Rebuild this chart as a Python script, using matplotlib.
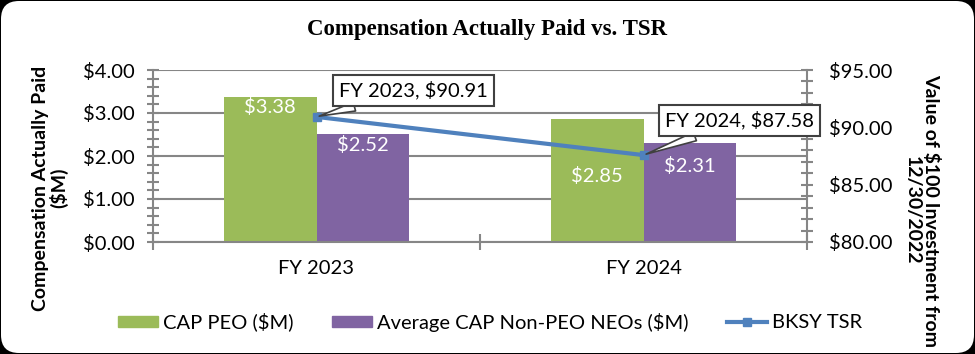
import matplotlib
matplotlib.use("Agg")
import matplotlib.pyplot as plt
import numpy as np
from matplotlib.patches import FancyBboxPatch, Patch
from matplotlib.lines import Line2D
from matplotlib.transforms import IdentityTransform

# data
categories = ["FY 2023", "FY 2024"]
cap_peo = [3.38, 2.85]
cap_non_peo = [2.52, 2.31]
bksy_tsr = [90.91, 87.58]

GREEN = "#9BBB59"
PURPLE = "#8064A2"
BLUE = "#4F81BD"
GRID = "#868686"
FONT = ["Lato", "DejaVu Sans"]
FS = 14.5

plt.rcParams["font.family"] = FONT

fig = plt.figure(figsize=(9.75, 3.54), dpi=100, facecolor="black")

# white rounded panel on black background
panel = FancyBboxPatch((1, 1), 973, 352, boxstyle="round,pad=0,rounding_size=18",
                       transform=IdentityTransform(), fc="white", ec="none", zorder=-10)
fig.patches.append(panel)

ax = fig.add_axes([153 / 975, 1 - 242 / 354, 654 / 975, 172 / 354])
ax.set_facecolor("none")
x = np.arange(len(categories))
bw = 0.284

b1 = ax.bar(x - bw / 2, cap_peo, bw, color=GREEN, zorder=2)
b2 = ax.bar(x + bw / 2, cap_non_peo, bw, color=PURPLE, zorder=2)

ax.set_ylim(0, 4)
ax.set_xlim(-0.5, 1.5)
ax.set_yticks(np.arange(0, 4.01, 1))
ax.set_yticks(np.arange(0, 4.01, 0.2), minor=True)
ax.set_yticklabels([f"${v:.2f}" for v in np.arange(0, 4.01, 1)])
ax.yaxis.grid(True, color=GRID, lw=1.5, zorder=0)
ax.set_axisbelow(True)

ax.set_xticks([-0.5, 0.5, 1.5])
ax.set_xticklabels([])
ax.set_xticks(x, minor=True)
ax.set_xticklabels(categories, minor=True)
ax.tick_params(axis="x", which="major", direction="inout", length=11, width=1.5, color=GRID)
ax.tick_params(axis="x", which="minor", length=0, pad=13, labelsize=FS)
ax.tick_params(axis="y", which="both", direction="inout", length=9, width=1.5,
               color=GRID, labelsize=FS, pad=9)

for s in ["top", "right"]:
    ax.spines[s].set_visible(False)
for s in ["left", "bottom"]:
    ax.spines[s].set_color(GRID)
    ax.spines[s].set_linewidth(1.5)

# bar value labels (offsets in px below bar top, some were moved by hand)
peo_off = [10, 57]
non_off = [11, 23]
for rect, v, off in zip(b1, cap_peo, peo_off):
    ax.annotate(f"${v:.2f}", (rect.get_x() + rect.get_width() / 2, v),
                xytext=(0, -off * 0.72), textcoords="offset points",
                ha="center", va="center", color="white", fontsize=FS, zorder=3)
for rect, v, off in zip(b2, cap_non_peo, non_off):
    ax.annotate(f"${v:.2f}", (rect.get_x() + rect.get_width() / 2, v),
                xytext=(0, -off * 0.72), textcoords="offset points",
                ha="center", va="center", color="white", fontsize=FS, zorder=3)

# TSR line on secondary axis
ax2 = ax.twinx()
ax2.plot(x, bksy_tsr, color=BLUE, lw=3, marker="s", ms=6, zorder=4)
ax2.set_ylim(80, 95)
ax2.set_yticks(np.arange(80, 95.1, 5))
ax2.set_yticks(np.arange(80, 95.1, 1), minor=True)
ax2.set_yticklabels([f"${v:.2f}" for v in np.arange(80, 95.1, 5)])
ax2.tick_params(axis="y", which="both", direction="inout", length=9, width=1.5,
                color=GRID, labelsize=FS, pad=11)
for s in ["top", "left", "bottom"]:
    ax2.spines[s].set_visible(False)
ax2.spines["right"].set_color(GRID)
ax2.spines["right"].set_linewidth(1.5)

callout_off = [(70, 19), (69, 25)]
for xi, v, lab, off in zip(x, bksy_tsr, categories, callout_off):
    ax2.annotate(f"{lab}, ${v:.2f}", (xi, v), xytext=off, textcoords="offset points",
                 ha="center", va="center", fontsize=FS, color="black", zorder=6,
                 bbox=dict(boxstyle="square,pad=0.3", fc="white", ec="#404040", lw=1.5),
                 arrowprops=dict(arrowstyle="wedge,tail_width=0.45,shrink_factor=0.5",
                                 fc="white", ec="#404040", lw=1.2, shrinkA=0, shrinkB=2))

# titles and axis labels
fig.text(487 / 975, 1 - 30 / 354, "Compensation Actually Paid vs. TSR", ha="center",
         va="center", fontsize=16.5, fontweight="bold", family="Liberation Serif")
fig.text(50 / 975, 1 - 188 / 354, "Compensation Actually Paid\n($M)", rotation=90,
         ha="center", va="center", multialignment="center", fontsize=14,
         fontweight="bold", linespacing=1.05)
fig.text(922 / 975, 1 - 210 / 354, "Value of $100 Investment from\n12/30/2022", rotation=270,
         ha="center", va="center", multialignment="center", fontsize=14,
         fontweight="bold", linespacing=1.05)

handles = [Patch(color=GREEN), Patch(color=PURPLE),
           Line2D([], [], color=BLUE, lw=3, marker="s", ms=6)]
labels = ["CAP PEO ($M)", "Average CAP Non-PEO NEOs ($M)", "BKSY TSR"]
fig.legend(handles, labels, loc="center", bbox_to_anchor=(490 / 975, 1 - 322 / 354),
           ncol=3, frameon=False, fontsize=FS, handlelength=2.0, handleheight=0.5,
           handletextpad=0.25, columnspacing=1.9)

fig.savefig("out.png", dpi=100, facecolor="black")
